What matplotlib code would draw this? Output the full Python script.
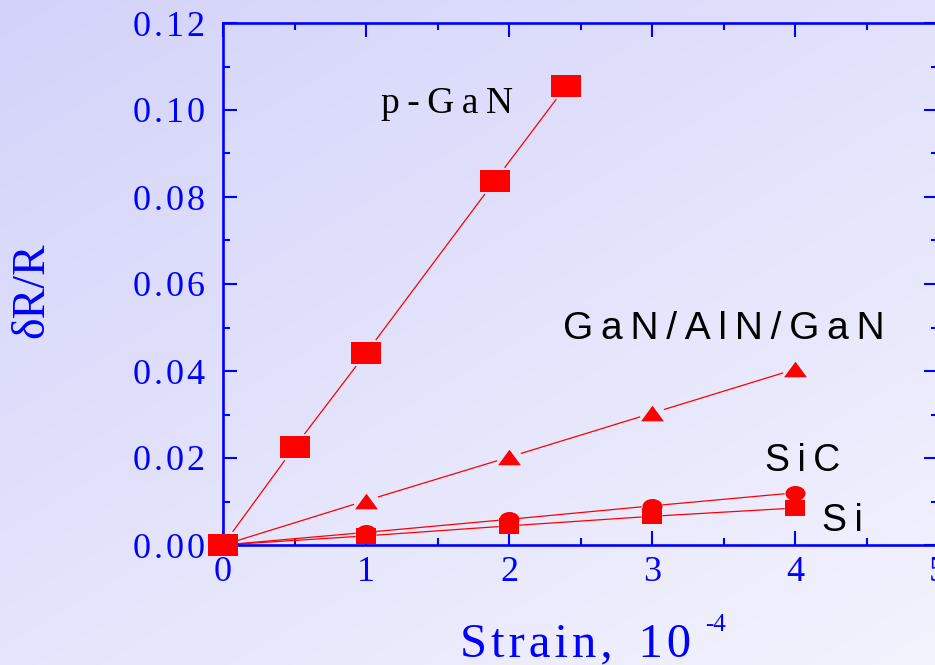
import numpy as np
import matplotlib
matplotlib.use("Agg")
import matplotlib.pyplot as plt
from matplotlib.path import Path
from matplotlib.ticker import MultipleLocator, FuncFormatter

# piezoresistive response: relative resistance change vs. strain (units of 1e-4)
strain_pgan = [0, 0.5, 1.0, 1.9, 2.4]
dr_pgan = [0, 0.0225, 0.0441, 0.0837, 0.1055]

strain = [0, 1, 2, 3, 4]
dr_gan_aln = [0, 0.0102, 0.0202, 0.0303, 0.0404]
dr_sic = [0, 0.0029, 0.0059, 0.0090, 0.0120]
dr_si = [0, 0.0021, 0.0044, 0.0066, 0.0085]

labels = ["p-GaN", "GaN/AlN/GaN", "SiC", "Si"]

BLUE = "#0000ff"
RED = "#ff0000"
HS = "\u200a"  # hair space
TS = "\u2009"  # thin space

plt.rcParams["font.family"] = ["Liberation Serif", "DejaVu Serif"]
SANS = ["Liberation Sans", "DejaVu Sans"]


def spaced(s, sep=HS):
    return sep.join(s)


W, H = 935, 665
fig = plt.figure(figsize=(W / 100, H / 100), dpi=100)

# lavender diagonal gradient background
bg = fig.add_axes([0, 0, 1, 1], zorder=-10)
yy, xx = np.mgrid[0:H, 0:W]
t = (xx / W + yy / H * 1.2) / 2.2
c0 = np.array([211, 211, 250]) / 255
c1 = np.array([243, 243, 254]) / 255
img = c0[None, None, :] * (1 - t[..., None]) + c1[None, None, :] * t[..., None]
bg.imshow(img, aspect="auto", extent=[0, 1, 0, 1])
bg.axis("off")

ax = fig.add_axes([223 / W, 1 - 545 / H, 715 / W, 522 / H])
ax.set_facecolor("none")
ax.set_xlim(0, 5)
ax.set_ylim(0, 0.12)

for sp in ax.spines.values():
    sp.set_color(BLUE)
    sp.set_linewidth(1.9)

ax.xaxis.set_major_locator(MultipleLocator(1))
ax.xaxis.set_minor_locator(MultipleLocator(0.5))
ax.yaxis.set_major_locator(MultipleLocator(0.02))
ax.yaxis.set_minor_locator(MultipleLocator(0.01))
ax.xaxis.set_major_formatter(FuncFormatter(lambda v, p: f"{v:.0f}"))
ax.yaxis.set_major_formatter(FuncFormatter(lambda v, p: spaced(f"{v:.2f}")))
ax.tick_params(which="both", direction="in", top=True, right=True,
               color=BLUE, labelcolor=BLUE, width=1.5, labelsize=26)
ax.tick_params(which="major", length=10)
ax.tick_params(which="minor", length=5)
ax.tick_params(axis="y", pad=13)
ax.tick_params(axis="x", pad=8)


def gapped_line(ax, xs, ys, gap, **kw):
    # connect points with segments that stop short of each marker
    pts = ax.transData.transform(np.column_stack([xs, ys]))
    inv = ax.transData.inverted()
    for p0, p1 in zip(pts[:-1], pts[1:]):
        d = p1 - p0
        u = d / np.hypot(*d)
        seg = inv.transform([p0 + u * gap, p1 - u * gap])
        ax.plot(seg[:, 0], seg[:, 1], **kw)


rect_wide = Path([(-1.36, -1), (1.36, -1), (1.36, 1), (-1.36, 1), (-1.36, -1)], closed=True)
rect_small = Path([(-1.33, -1), (1.33, -1), (1.33, 1), (-1.33, 1), (-1.33, -1)], closed=True)
tri = Path([(-1, -0.68), (1, -0.68), (0, 0.68), (-1, -0.68)], closed=True)
circ = Path.unit_circle()
ellipse = Path(circ.vertices * [1, 0.75], circ.codes)

line_kw = dict(color=RED, lw=0.9, zorder=2)
gapped_line(ax, strain, dr_si, 11, **line_kw)
gapped_line(ax, strain, dr_sic, 11, **line_kw)
gapped_line(ax, strain, dr_gan_aln, 13, **line_kw)
gapped_line(ax, strain_pgan, dr_pgan, 17, **line_kw)

ax.plot(strain, dr_si, ls="none", marker=rect_small, ms=14.4, mfc=RED, mec=RED, mew=0, zorder=3)
ax.plot(strain, dr_sic, ls="none", marker=ellipse, ms=14.4, mfc=RED, mec=RED, mew=0, zorder=3)
ax.plot(strain, dr_gan_aln, ls="none", marker=tri, ms=16.5, mfc=RED, mec=RED, mew=0, zorder=3)
ax.plot(strain_pgan, dr_pgan, ls="none", marker=rect_wide, ms=21.6, mfc=RED, mec=RED, mew=0, zorder=4,
        clip_on=False)

ax.text(1.566, 0.0993, spaced(labels[0], TS), fontsize=27, color="black", ha="center", va="baseline")
ax.text(3.503, 0.0474, spaced(labels[1], TS), fontsize=28, color="black", ha="center",
        va="baseline", family=SANS)
ax.text(4.05, 0.0170, spaced(labels[2], TS), fontsize=27, color="black", ha="center",
        va="baseline", family=SANS)
ax.text(4.33, 0.0032, spaced(labels[3], TS), fontsize=27, color="black", ha="center",
        va="baseline", family=SANS)

fig.text(32 / W, 1 - 290 / H, "\u03b4R/R", rotation=90, color=BLUE, fontsize=33,
         ha="center", va="center")
fig.text(460 / W, 1 - 656 / H, spaced("Strain,") + " " + TS + HS + spaced("10"), color=BLUE,
         fontsize=35, ha="left", va="baseline")
fig.text(705 / W, 1 - 631 / H, "-4", color=BLUE, fontsize=18, ha="left", va="baseline")

fig.savefig("out.png", dpi=100)
